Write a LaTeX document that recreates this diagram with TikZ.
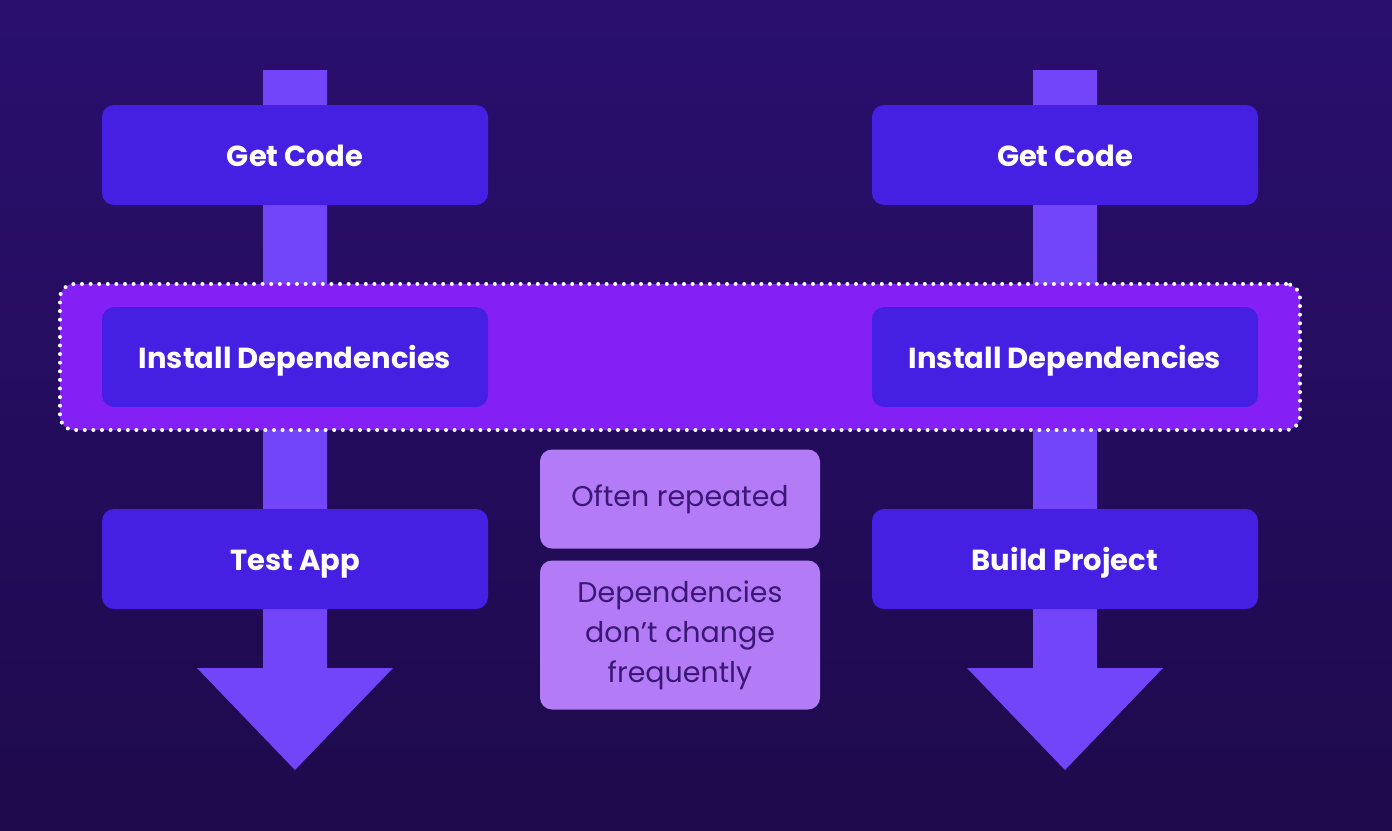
\documentclass[tikz,border=0pt]{standalone}
\usepackage{fontspec}
\setmainfont{Poppins}
\definecolor{bgtop}{HTML}{2A0F6E}
\definecolor{bgbot}{HTML}{1E0A4C}
\definecolor{stepfill}{HTML}{4520E3}
\definecolor{arrowfill}{HTML}{7246F8}
\definecolor{bandfill}{HTML}{8420F6}
\definecolor{notefill}{HTML}{B47BF6}
\definecolor{notetext}{HTML}{3B1876}
\tikzset{
  stepbox/.style={rectangle, rounded corners=12pt, fill=stepfill, minimum width=386pt, minimum height=100pt, text=white, font=\bfseries\fontsize{29}{34}\selectfont, inner sep=0pt, text height=22pt, text depth=0pt},
  notebox/.style={rectangle, rounded corners=12pt, fill=notefill, minimum width=280pt, text=notetext, font=\fontsize{28.5}{40}\selectfont, align=center, inner sep=0pt},
  bigarrow/.style={fill=arrowfill},
}
\begin{document}
\begin{tikzpicture}[x=1pt,y=-1pt]
\useasboundingbox (0,0) rectangle (1392,830);
\shade[top color=bgtop, bottom color=bgbot] (0,0) rectangle (1392,830);
% big arrows
\foreach \cx in {295,1065}{
  \fill[bigarrow] (\cx-32,70) -- (\cx+32,70) -- (\cx+32,668) -- (\cx+98,668) -- (\cx,770) -- (\cx-98,668) -- (\cx-32,668) -- cycle;
}
% highlight band
\node[rectangle, rounded corners=14pt, fill=bandfill, draw=white, line width=4pt, line cap=round, dash pattern=on 0pt off 8.6pt, minimum width=1240pt, minimum height=146pt, inner sep=0pt] (band) at (680,357) {};
% left pipeline
\node[stepbox] (lget) at (295,155) {Get Code};
\node[stepbox] (linst) at (295,357) {Install Dependencies};
\node[stepbox] (ltest) at (295,559) {Test App};
% right pipeline
\node[stepbox] (rget) at (1065,155) {Get Code};
\node[stepbox] (rinst) at (1065,357) {Install Dependencies};
\node[stepbox] (rbuild) at (1065,559) {Build Project};
% notes
\node[notebox, minimum height=99pt] (n1) at (680,499) {Often repeated};
\node[notebox, minimum height=149pt] (n2) at (680,635) {Dependencies\\don’t change\\frequently};
\end{tikzpicture}
\end{document}
